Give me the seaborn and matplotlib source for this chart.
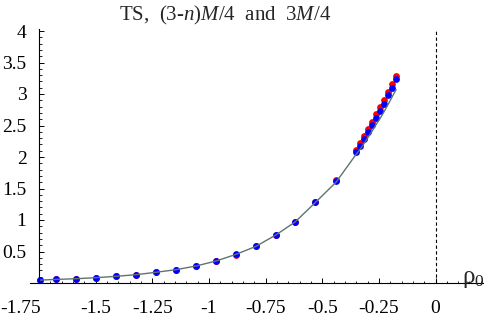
import matplotlib
matplotlib.use("Agg")
import matplotlib.pyplot as plt
import matplotlib.transforms as mtransforms
import numpy as np
import pandas as pd
import seaborn as sns

# Datos
rho0 = [-1.746, -1.675, -1.587, -1.499, -1.410, -1.322, -1.234, -1.146, -1.057,
        -0.969, -0.881, -0.793, -0.704, -0.620, -0.532, -0.439, -0.351, -0.333,
        -0.316, -0.298, -0.280, -0.263, -0.245, -0.227, -0.210, -0.192, -0.174]
ts_azul = [0.048, 0.059, 0.068, 0.084, 0.106, 0.132, 0.170, 0.211, 0.270,
           0.349, 0.456, 0.583, 0.767, 0.973, 1.281, 1.619, 2.084, 2.180,
           2.280, 2.397, 2.503, 2.614, 2.725, 2.846, 2.979, 3.100, 3.233]
ts_rojo = [0.048, 0.059, 0.068, 0.084, 0.106, 0.132, 0.170, 0.211, 0.270,
           0.349, 0.445, 0.583, 0.757, 0.973, 1.281, 1.635, 2.116, 2.227,
           2.333, 2.449, 2.561, 2.677, 2.794, 2.910, 3.037, 3.159, 3.281]
curva = [0.046, 0.057, 0.068, 0.084, 0.106, 0.132, 0.170, 0.211, 0.270,
         0.349, 0.454, 0.581, 0.764, 0.968, 1.272, 1.600, 2.040, 2.120,
         2.210, 2.310, 2.410, 2.510, 2.610, 2.720, 2.830, 2.950, 3.070]

xticks = [-1.75, -1.5, -1.25, -1, -0.75, -0.5, -0.25, 0]
xlabels = ['-1.75', '-1.5', '-1.25', '-1', '-0.75', '-0.5', '-0.25', '0']
yticks = [0.5, 1, 1.5, 2, 2.5, 3, 3.5, 4]
ylabels = ['0.5', '1', '1.5', '2', '2.5', '3', '3.5', '4']

df = pd.DataFrame({'rho0': rho0, 'azul': ts_azul, 'rojo': ts_rojo, 'curva': curva})

sns.set_style("white")
plt.rcParams['font.family'] = ['Liberation Serif', 'DejaVu Serif']
plt.rcParams['mathtext.fontset'] = 'custom'
plt.rcParams['mathtext.rm'] = 'Liberation Serif'
plt.rcParams['mathtext.it'] = 'Liberation Serif:italic'

fig = plt.figure(figsize=(4.85, 3.21), dpi=100)
ax = fig.add_axes([30 / 485, 38 / 321, 455 / 485, 283 / 321])

sns.lineplot(data=df, x='rho0', y='curva', color='#5f7373', linewidth=1.0, ax=ax)
sns.scatterplot(data=df, x='rho0', y='rojo', color='#ff0000', s=24, linewidth=0, ax=ax)
sns.scatterplot(data=df, x='rho0', y='azul', color='#0000ff', s=24, linewidth=0, ax=ax)

# Linea vertical punteada en rho0 = 0
ax.vlines(0, 0, 4.03, colors='black', linestyles=(0, (3, 2.2)), linewidth=0.8)

ax.set_xlim(-1.790, 0.2185)
ax.set_ylim(0, 283 / 63)

for s in ['top', 'right']:
    ax.spines[s].set_visible(False)
ax.spines['left'].set_position(('data', -1.75))
ax.spines['left'].set_bounds(0, 4.03)
for s in ['left', 'bottom']:
    ax.spines[s].set_linewidth(0.8)
    ax.spines[s].set_color('black')

ax.set_xticks(xticks, xlabels)
ax.set_xticks(np.arange(-1.75, 0.21, 0.05), minor=True)
ax.set_yticks(yticks, ylabels)
ax.set_yticks(np.arange(0.1, 4.01, 0.1), minor=True)
ax.tick_params(which='both', bottom=True, left=True)
ax.tick_params(which='major', direction='in', length=3.5, width=0.7, colors='black',
               labelsize=14)
ax.tick_params(which='minor', direction='in', length=1.8, width=0.6, colors='black')
ax.tick_params(axis='x', which='major', pad=12)
ax.tick_params(axis='y', which='major', pad=9)

# Mover la etiqueta -1.75 a la izquierda como en el original
etq = ax.get_xticklabels()[0]
etq.set_transform(etq.get_transform() + mtransforms.ScaledTranslation(-0.18, 0, fig.dpi_scale_trans))

ax.set_xlabel('')
ax.set_ylabel('')

fig.text(224.7 / 485, 1 - 15 / 321, r'TS,  (3-$n$)$M$/4  and  3$M$/4', fontsize=15,
         ha='center', va='center')
fig.text(473 / 485, 1 - 279 / 321, r'ρ$_0$', fontsize=18, ha='center', va='center')

fig.savefig('out.png', dpi=100)
